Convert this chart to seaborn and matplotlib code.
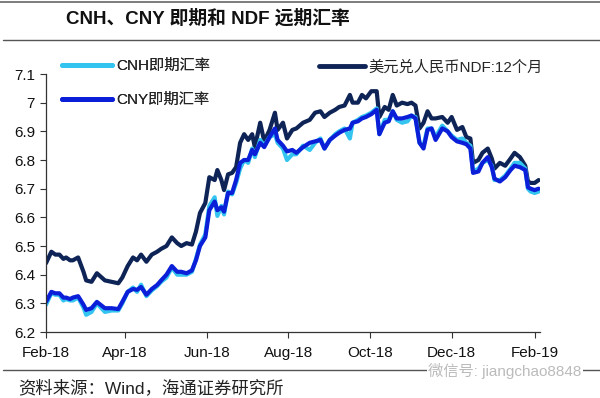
import matplotlib
matplotlib.use("Agg")
import matplotlib.pyplot as plt
import matplotlib.dates as mdates
from matplotlib.lines import Line2D
import pandas as pd
import seaborn as sns

dates = ["2018-02-01","2018-02-05","2018-02-08","2018-02-11","2018-02-14","2018-02-16","2018-02-19","2018-02-21",
         "2018-02-25","2018-03-01","2018-03-03","2018-03-07","2018-03-11","2018-03-17","2018-03-22","2018-03-27",
         "2018-03-30","2018-04-03","2018-04-07","2018-04-10","2018-04-13","2018-04-17","2018-04-21","2018-04-25",
         "2018-04-28","2018-05-02","2018-05-06","2018-05-10","2018-05-13","2018-05-17","2018-05-21","2018-05-24",
         "2018-05-27","2018-05-31","2018-06-03","2018-06-07","2018-06-09","2018-06-12","2018-06-14","2018-06-17",
         "2018-06-20","2018-06-23","2018-06-26","2018-06-29","2018-07-02","2018-07-05","2018-07-07","2018-07-11",
         "2018-07-14","2018-07-18","2018-07-22","2018-07-24","2018-07-28","2018-07-31","2018-08-04","2018-08-07",
         "2018-08-12","2018-08-17","2018-08-21","2018-08-25","2018-08-28","2018-09-01","2018-09-05","2018-09-08",
         "2018-09-12","2018-09-16","2018-09-18","2018-09-22","2018-09-25","2018-09-28","2018-10-02","2018-10-06",
         "2018-10-08","2018-10-12","2018-10-15","2018-10-18","2018-10-21","2018-10-25","2018-10-29","2018-11-01",
         "2018-11-04","2018-11-07","2018-11-10","2018-11-13","2018-11-16","2018-11-19","2018-11-24","2018-11-28",
         "2018-12-01","2018-12-05","2018-12-09","2018-12-12","2018-12-15","2018-12-17","2018-12-21","2018-12-24",
         "2018-12-28","2018-12-31","2019-01-02","2019-01-06","2019-01-10","2019-01-14","2019-01-17","2019-01-21",
         "2019-01-25","2019-01-27","2019-01-29","2019-02-01","2019-02-04"]

ndf = [6.44,6.48,6.47,6.47,6.455,6.46,6.45,6.45,
       6.46,6.41,6.38,6.375,6.405,6.38,6.375,6.37,
       6.39,6.43,6.46,6.45,6.47,6.445,6.47,6.48,
       6.49,6.50,6.53,6.51,6.50,6.51,6.505,6.55,
       6.615,6.65,6.74,6.73,6.765,6.73,6.695,6.75,
       6.755,6.775,6.86,6.89,6.87,6.89,6.845,6.93,
       6.865,6.905,6.965,6.905,6.93,6.875,6.905,6.91,
       6.93,6.94,6.965,6.97,6.95,6.965,6.975,6.985,
       6.99,7.027,7.0,7.0,7.027,7.015,7.04,7.04,
       6.95,6.985,6.975,7.027,6.99,7.0,6.995,7.0,
       6.99,6.91,6.93,6.97,6.945,6.945,6.95,6.93,
       6.95,6.905,6.915,6.88,6.875,6.79,6.80,6.825,
       6.84,6.805,6.77,6.79,6.78,6.805,6.825,6.81,
       6.78,6.725,6.72,6.72,6.73]

cny = [6.305,6.34,6.335,6.335,6.32,6.32,6.315,6.32,
       6.325,6.295,6.277,6.283,6.305,6.283,6.283,6.28,
       6.305,6.34,6.35,6.347,6.357,6.33,6.35,6.364,
       6.38,6.40,6.43,6.41,6.41,6.405,6.415,6.45,
       6.50,6.53,6.625,6.655,6.625,6.635,6.62,6.685,
       6.685,6.73,6.79,6.80,6.80,6.835,6.82,6.86,
       6.845,6.88,6.91,6.87,6.85,6.83,6.835,6.825,
       6.845,6.86,6.865,6.87,6.84,6.87,6.885,6.895,
       6.905,6.91,6.93,6.935,6.945,6.95,6.96,6.975,
       6.89,6.93,6.935,6.97,6.945,6.945,6.95,6.955,
       6.945,6.86,6.84,6.905,6.91,6.87,6.91,6.90,
       6.88,6.865,6.86,6.855,6.84,6.755,6.76,6.79,
       6.81,6.775,6.735,6.725,6.74,6.765,6.78,6.775,
       6.765,6.705,6.70,6.695,6.70]

cnh = [6.295,6.335,6.33,6.33,6.31,6.315,6.31,6.31,
       6.32,6.285,6.26,6.27,6.30,6.27,6.275,6.275,
       6.30,6.34,6.355,6.34,6.365,6.325,6.345,6.36,
       6.375,6.39,6.425,6.40,6.40,6.40,6.41,6.455,
       6.505,6.54,6.64,6.67,6.605,6.64,6.61,6.69,
       6.68,6.72,6.77,6.80,6.79,6.84,6.81,6.87,
       6.85,6.88,6.89,6.86,6.84,6.80,6.82,6.82,
       6.85,6.835,6.86,6.875,6.84,6.87,6.89,6.90,
       6.91,6.875,6.93,6.94,6.95,6.955,6.965,6.98,
       6.89,6.94,6.94,6.97,6.94,6.93,6.935,6.955,
       6.95,6.86,6.85,6.91,6.91,6.88,6.92,6.90,
       6.885,6.87,6.875,6.86,6.85,6.76,6.77,6.79,
       6.80,6.78,6.73,6.73,6.745,6.77,6.79,6.79,
       6.77,6.70,6.69,6.685,6.69]

yticks = [6.2, 6.3, 6.4, 6.5, 6.6, 6.7, 6.8, 6.9, 7.0, 7.1]
ytick_labels = ["6.2", "6.3", "6.4", "6.5", "6.6", "6.7", "6.8", "6.9", "7", "7.1"]

labels = {"cnh": "CNH即期汇率", "cny": "CNY即期汇率", "ndf": "美元兑人民币NDF:12个月"}
colors = {"cnh": "#33C4F0", "cny": "#0B1ED8", "ndf": "#0E2456"}

df = pd.DataFrame({"date": pd.to_datetime(dates), "ndf": ndf, "cny": cny, "cnh": cnh})

sns.set_theme(style="white")
plt.rcParams["font.family"] = ["Liberation Sans", "Noto Sans CJK SC"]

fig = plt.figure(figsize=(6.0, 3.98), dpi=100)
ax = fig.add_axes([46/600, 1-332/398, (540-46)/600, (332-74)/398])

lw = 3.0
sns.lineplot(data=df, x="date", y="ndf", ax=ax, color=colors["ndf"], linewidth=lw, label=labels["ndf"])
sns.lineplot(data=df, x="date", y="cnh", ax=ax, color=colors["cnh"], linewidth=lw, label=labels["cnh"])
sns.lineplot(data=df, x="date", y="cny", ax=ax, color=colors["cny"], linewidth=lw, label=labels["cny"])

ax.set_xlim(pd.Timestamp("2018-02-01"), pd.Timestamp("2019-02-05"))
ax.set_ylim(6.2, 7.1)
ax.set_yticks(yticks)
ax.set_yticklabels(ytick_labels)
ax.xaxis.set_major_locator(mdates.MonthLocator(bymonth=[2, 4, 6, 8, 10, 12]))
ax.xaxis.set_major_formatter(mdates.DateFormatter("%b-%y"))
ax.set_xlabel("")
ax.set_ylabel("")
ax.tick_params(axis="both", which="major", labelsize=11, length=4, width=0.8,
               direction="out", color="#333333", labelcolor="#111111")
ax.tick_params(axis="x", pad=6)
ax.tick_params(axis="y", pad=4)
ax.xaxis.set_ticks_position("bottom")
ax.yaxis.set_ticks_position("left")
for s in ["top", "right"]:
    ax.spines[s].set_visible(False)
for s in ["left", "bottom"]:
    ax.spines[s].set_color("#333333")
    ax.spines[s].set_linewidth(0.9)

h, l = ax.get_legend_handles_labels()
hd = dict(zip(l, h))
leg1 = fig.legend([hd[labels["cnh"]], hd[labels["cny"]]], [labels["cnh"], labels["cny"]],
                  loc="upper left", bbox_to_anchor=(62/600, 1-59/398), frameon=False,
                  fontsize=11, handlelength=3.3, handletextpad=0.25, labelspacing=1.3,
                  borderpad=0, borderaxespad=0)
for line in leg1.get_lines():
    line.set_linewidth(3.5)
fig.add_artist(leg1)
leg2 = fig.legend([hd[labels["ndf"]]], [labels["ndf"]],
                  loc="upper left", bbox_to_anchor=(319/600, 1-60/398), frameon=False,
                  fontsize=11, handlelength=3.0, handletextpad=0.25,
                  borderpad=0, borderaxespad=0)
for line in leg2.get_lines():
    line.set_linewidth(3.5)
if ax.get_legend() is not None:
    ax.get_legend().remove()

# header / footer rules and text
fig.add_artist(Line2D([0, 1], [1-2/398, 1-2/398], transform=fig.transFigure, color="#666666", linewidth=1.2))
fig.add_artist(Line2D([3/600, 1], [1-40/398, 1-40/398], transform=fig.transFigure, color="#555555", linewidth=1.0))
fig.add_artist(Line2D([3/600, 1], [1-370/398, 1-370/398], transform=fig.transFigure, color="#555555", linewidth=1.0))

fig.text(66/600, 1-19/398, "CNH、CNY 即期和 NDF 远期汇率", fontsize=13.5, fontweight="bold",
         ha="left", va="center", color="#111111")
fig.text(18/600, 1-388/398, "资料来源：Wind，海通证券研究所", fontsize=12.5,
         ha="left", va="center", color="#222222")
fig.text(428/600, 1-371/398, "微信号: jiangchao8848", fontsize=11,
         ha="left", va="center", color="#bbbbbb",
         bbox=dict(facecolor="white", edgecolor="none", pad=1))

fig.savefig("out.png", dpi=100)
